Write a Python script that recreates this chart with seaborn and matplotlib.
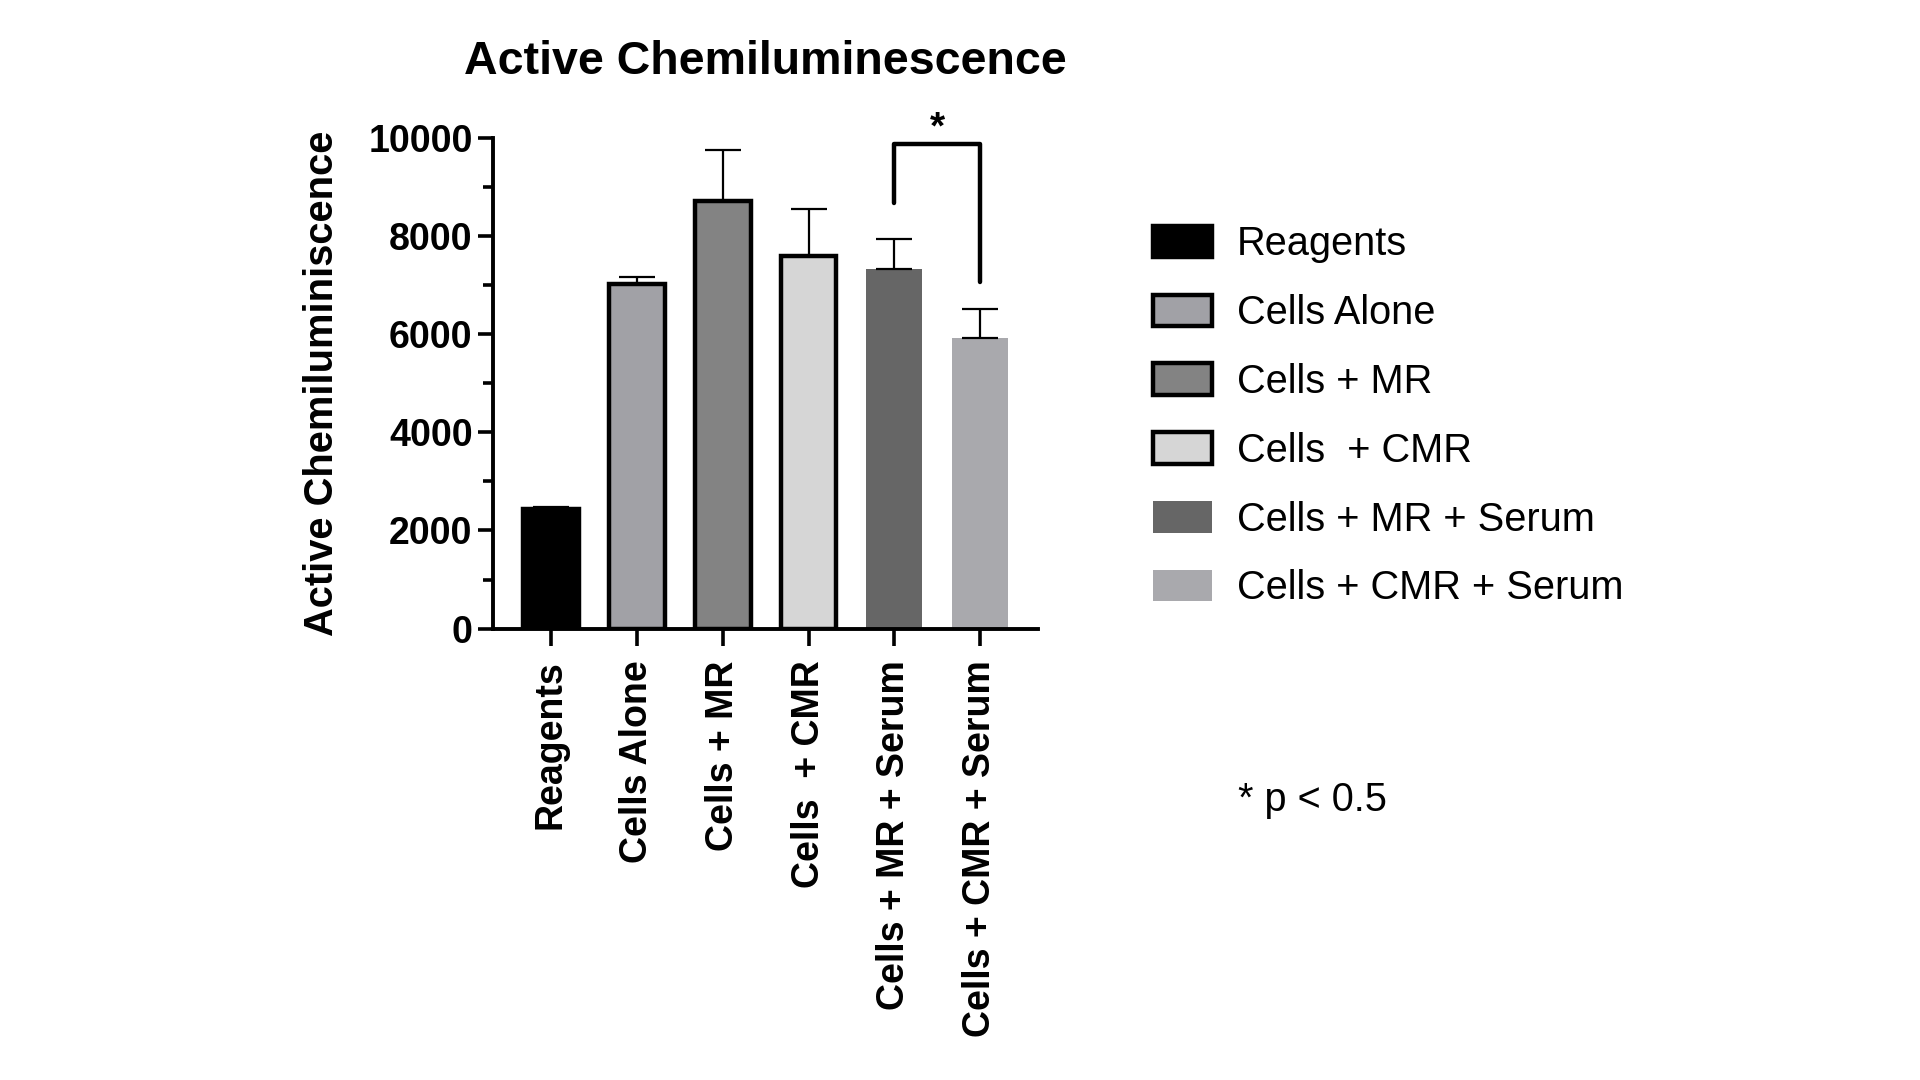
import seaborn as sns
import matplotlib.pyplot as plt
from matplotlib.patches import Patch
from matplotlib.ticker import MultipleLocator

# data
groups = ['Reagents', 'Cells Alone', 'Cells + MR', 'Cells  + CMR',
          'Cells + MR + Serum', 'Cells + CMR + Serum']
means = [2440, 7030, 8730, 7600, 7330, 5930]
sd = [30, 150, 1020, 950, 620, 580]
colors = ['#000000', '#a1a1a6', '#838383', '#d6d6d6', '#666666', '#a9a9ad']
edges = [True, True, True, True, False, False]

sns.set_style('ticks')
plt.rcParams['font.family'] = ['Liberation Sans', 'DejaVu Sans']
plt.rcParams['text.color'] = 'black'
plt.rcParams['axes.labelcolor'] = 'black'
plt.rcParams['xtick.color'] = 'black'
plt.rcParams['ytick.color'] = 'black'
plt.rcParams['axes.edgecolor'] = 'black'

fig = plt.figure(figsize=(19.2, 10.8), dpi=100)
ax = fig.add_axes([0.257, 0.418, 0.2835, 0.454])

sns.barplot(x=groups, y=means, hue=groups, palette=colors, legend=False,
            width=0.65, saturation=1, ax=ax)
for p, e in zip(ax.patches, edges):
    if e:
        p.set_edgecolor('black')
        p.set_linewidth(3.2)
    else:
        p.set_linewidth(0)

# upper error bars only
ax.errorbar(range(len(groups)), means, yerr=[[0] * len(sd), sd], fmt='none',
            ecolor='black', elinewidth=1.6, capsize=13, capthick=1.6, zorder=1)

ax.set_ylim(0, 10000)
ax.set_xlim(-0.67, 5.67)
ax.yaxis.set_major_locator(MultipleLocator(2000))
ax.yaxis.set_minor_locator(MultipleLocator(1000))
sns.despine(ax=ax)
for s in ['left', 'bottom']:
    ax.spines[s].set_linewidth(2.8)
ax.tick_params(axis='y', which='major', length=11, width=2.6, pad=4,
               labelsize=27)
ax.tick_params(axis='y', which='minor', length=7, width=2.6)
ax.tick_params(axis='x', length=12, width=2.6, pad=11, labelsize=27)
ax.set_xticks(range(len(groups)))
ax.set_xticklabels(groups, rotation=90, fontweight='bold')
for t in ax.get_yticklabels():
    t.set_fontweight('bold')

ax.set_xlabel('')
ax.set_ylabel('Active Chemiluminiscence', fontsize=28.7, fontweight='bold')
ax.yaxis.set_label_coords(-0.28, 0.5)
ax.set_title('Active Chemiluminescence', fontsize=33.5, fontweight='bold', pad=46)

# significance bracket
ax.plot([4, 4, 5, 5], [8680, 9880, 9880, 7060], color='black', lw=3.2,
        solid_capstyle='round', clip_on=False)
ax.text(4.5, 10200, '*', ha='center', va='center', fontsize=28,
        fontweight='bold', clip_on=False)

handles = [Patch(facecolor=c, edgecolor='black' if e else c,
                 linewidth=3.2 if e else 0) for c, e in zip(colors, edges)]
fig.legend(handles, groups, loc='upper left', bbox_to_anchor=(0.592, 0.806),
           frameon=False, fontsize=28.6, handlelength=1.5, handleheight=0.85,
           handletextpad=0.62, labelspacing=0.775, borderaxespad=0)

fig.text(0.645, 0.259, '* p < 0.5', fontsize=28.6, va='center')

fig.savefig('out.png', dpi=100)
